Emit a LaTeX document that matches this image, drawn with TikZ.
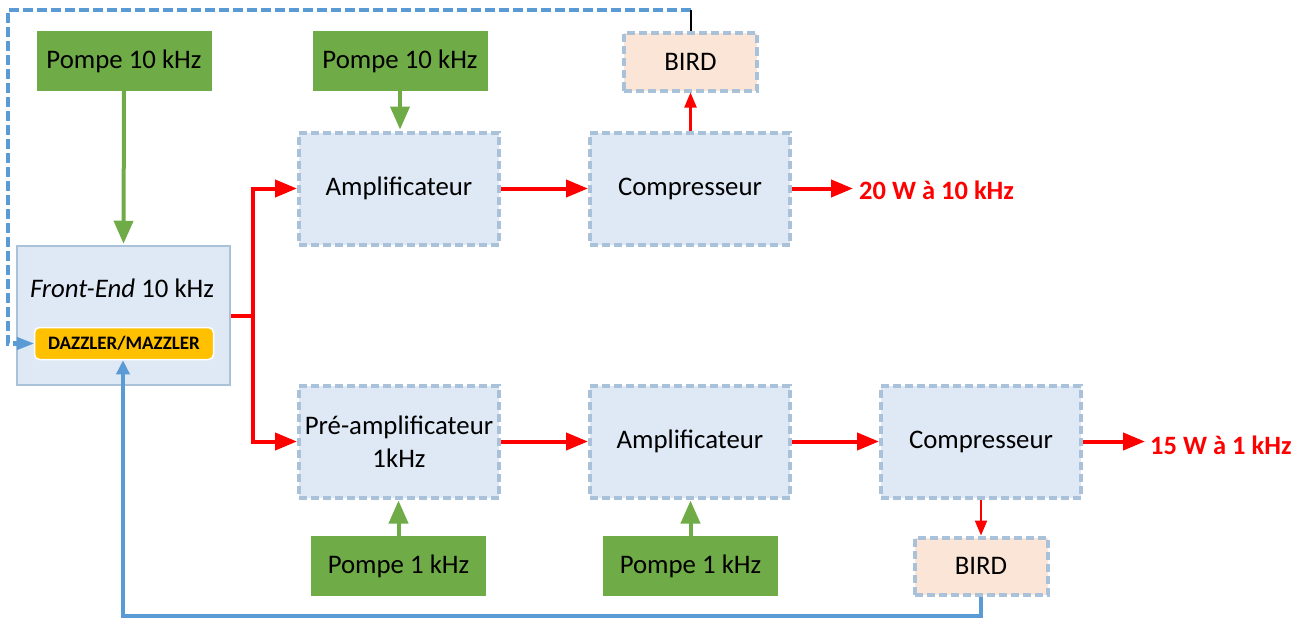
\documentclass[tikz,border=0pt]{standalone}
\usepackage{fontspec}
\setmainfont{Carlito}
\usetikzlibrary{arrows.meta,calc}
\definecolor{boxblue}{HTML}{DEE9F5}
\definecolor{boxedge}{HTML}{A9C1D9}
\definecolor{pompe}{HTML}{6FAB46}
\definecolor{birdfill}{HTML}{FBE5D6}
\definecolor{linkblue}{HTML}{5B9BD5}
\definecolor{dazz}{HTML}{FFC000}
\tikzset{
  txt/.style={font=\fontsize{26.8}{31}\selectfont,text=black,align=center,inner sep=0pt},
  pompebox/.style={txt,fill=pompe,minimum width=175pt,minimum height=60pt},
  stage/.style={txt,fill=boxblue,draw=boxedge,line width=4pt,dash pattern=on 8pt off 4pt,minimum width=200pt,minimum height=112pt},
  birdbox/.style={txt,fill=birdfill,draw=boxedge,line width=4pt,dash pattern=on 8pt off 4pt,minimum width=133pt,minimum height=57pt},
  frontbox/.style={txt,fill=boxblue,draw=boxedge,line width=2.5pt,minimum width=213pt,minimum height=139pt},
  dazzbox/.style={fill=dazz,draw=white,line width=1.5pt,rounded corners=5pt,minimum width=179pt,minimum height=32pt,inner sep=0pt,font=\fontsize{19}{22}\selectfont\bfseries},
  greenarrow/.style={draw=pompe,line width=4pt,-{Triangle[length=23pt,width=19pt]},shorten >=1pt},
  redarrow/.style={draw=red,line width=4pt,-{Triangle[length=22pt,width=17pt]}},
  redthin/.style={draw=red,line width=2.2pt,-{Triangle[length=15pt,width=12pt]}},
  redline/.style={draw=red,line width=4pt},
  bluedash/.style={draw=linkblue,line width=4.5pt,dash pattern=on 10pt off 4pt,line join=miter},
  bluesolid/.style={draw=linkblue,line width=4.5pt},
  outlabel/.style={text=red,font=\fontsize{26.5}{31}\selectfont\bfseries,inner sep=0pt,anchor=west},
}
\begin{document}
\begin{tikzpicture}[x=1pt,y=-1pt]
\useasboundingbox (0,0) rectangle (1305,618);
\node[pompebox] (p1) at (124,61) {\raisebox{-1pt}{Pompe 10 kHz}};
\node[pompebox] (p2) at (400,61) {\raisebox{-1pt}{Pompe 10 kHz}};
\node[birdbox] (b1) at (690.5,62) {BIRD};
\node[stage] (a1) at (399,188.5) {Amplificateur};
\node[stage] (c1) at (690,188.5) {Compresseur};
\node[frontbox] (fe) at (123.5,315.5) {};
\node[txt] (fet) at (122,288) {\textit{Front-End} 10 kHz};
\node[dazzbox] (dz) at (124,343.5) {DAZZLER/MAZZLER};
\node[stage] (pa) at (399,441.5) {Pré-amplificateur\\[2pt]1kHz};
\node[stage] (a2) at (690,441.5) {Amplificateur};
\node[stage] (c2) at (981,441.5) {Compresseur};
\node[pompebox] (p3) at (398.5,566) {Pompe 1 kHz};
\node[pompebox] (p4) at (690.5,566) {Pompe 1 kHz};
\node[birdbox] (b2) at (981,566) {BIRD};
\node[outlabel] (o1) at (859,190) {20 W à 10 kHz};
\node[outlabel] (o2) at (1150,445) {15 W à 1 kHz};
\coordinate (jn) at (253,315.5);
\coordinate (nw1) at (8,10);
\coordinate (ne1) at (691,10);
\coordinate (sw2) at (123,616);
\coordinate (se2) at (981,616);
\coordinate (e1) at (853,188.5);
\coordinate (e2) at (1145,441.5);
% green
\draw[greenarrow] (p1.south) -- (fe.north);
\draw[greenarrow] (p2.south) -- (p2.south |- a1.north);
\draw[greenarrow] (p3.north) -- (p3.north |- pa.south);
\draw[greenarrow] (p4.north) -- (p4.north |- a2.south);
% red
\draw[redline] (fe.east) -- (jn);
\draw[redarrow] (jn) |- (a1.west);
\draw[redarrow] (jn) |- (pa.west);
\draw[redarrow] (a1.east) -- (c1.west);
\draw[redarrow] (c1.east) -- (e1);
\draw[redarrow] (pa.east) -- (a2.west);
\draw[redarrow] (a2.east) -- (c2.west);
\draw[redarrow] (c2.east) -- (e2);
\draw[redthin] (c1.north -| b1.south) -- (b1.south);
\draw[redthin] (c2.south) -- (b2.north);
% feedback
\draw[bluedash] (ne1) -- (nw1) -- (nw1 |- dz.west) -- (20,343.5);
\draw[draw=linkblue,line width=1.5pt,-{Triangle[length=17pt,width=13pt]}] (20,343.5) -- (dz.west);
\draw[black,line width=1.5pt] (ne1) -- (b1.north -| ne1);
\draw[bluesolid,-{Triangle[length=14pt,width=13pt]}] (b2.south) -- (se2) -- (sw2) -- (dz.south -| sw2);
\end{tikzpicture}
\end{document}
